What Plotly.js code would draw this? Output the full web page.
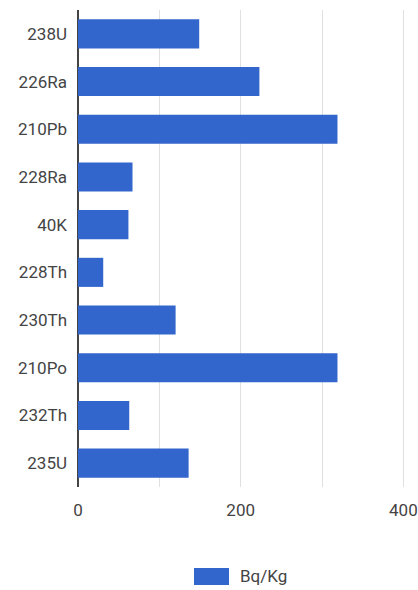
<!DOCTYPE html>
<html>
<head>
<meta charset="utf-8">
<script src="https://cdn.plot.ly/plotly-3.0.1.min.js"></script>
<style>html,body{margin:0;padding:0;background:#fff;}#chart{width:418px;height:590px;}</style>
</head>
<body>
<div id="chart"></div>
<script>
var categories = ["238U", "226Ra", "210Pb", "228Ra", "40K", "228Th", "230Th", "210Po", "232Th", "235U"];
var values = [149, 223, 319, 67, 62, 31, 120, 319, 63, 136];
var seriesName = "Bq/Kg";
var xTicks = [0, 200, 400];
var barColor = "#3366cc";

var trace = {
  type: "bar",
  orientation: "h",
  y: categories,
  x: values,
  name: seriesName,
  marker: {color: barColor},
  showlegend: false
};

var layout = {
  width: 418,
  height: 590,
  margin: {l: 78, r: 0, t: 10, b: 103},
  paper_bgcolor: "#fff",
  plot_bgcolor: "#fff",
  font: {family: "Roboto, Arial, sans-serif", size: 17, color: "#444"},
  bargap: 0.39,
  xaxis: {
    range: [0, 418],
    tickvals: xTicks,
    ticktext: xTicks.map(String),
    showgrid: true,
    gridcolor: "#e0e0e0",
    gridwidth: 1,
    minor: {dtick: 100, tick0: 0, showgrid: true, gridcolor: "#e0e0e0", gridwidth: 1, ticks: ""},
    zeroline: true,
    zerolinecolor: "#444",
    zerolinewidth: 1.5,
    showline: false,
    ticks: "",
    ticklabelstandoff: 11,
    fixedrange: true
  },
  yaxis: {
    autorange: "reversed",
    type: "category",
    showgrid: false,
    zeroline: false,
    showline: false,
    ticks: "",
    ticklabelstandoff: 10,
    fixedrange: true
  },
  showlegend: false,
  shapes: [{
    type: "rect",
    xref: "paper", yref: "paper",
    x0: 0.3412, x1: 0.4441, y0: -0.2055, y1: -0.1698,
    fillcolor: barColor,
    line: {width: 0}
  }],
  annotations: [{
    xref: "paper", yref: "paper",
    x: 0.4706, y: -0.1876,
    xanchor: "left", yanchor: "middle",
    text: seriesName,
    showarrow: false,
    font: {size: 17, color: "#444"}
  }]
};

Plotly.newPlot("chart", [trace], layout, {displayModeBar: false, staticPlot: true});
</script>
</body>
</html>
